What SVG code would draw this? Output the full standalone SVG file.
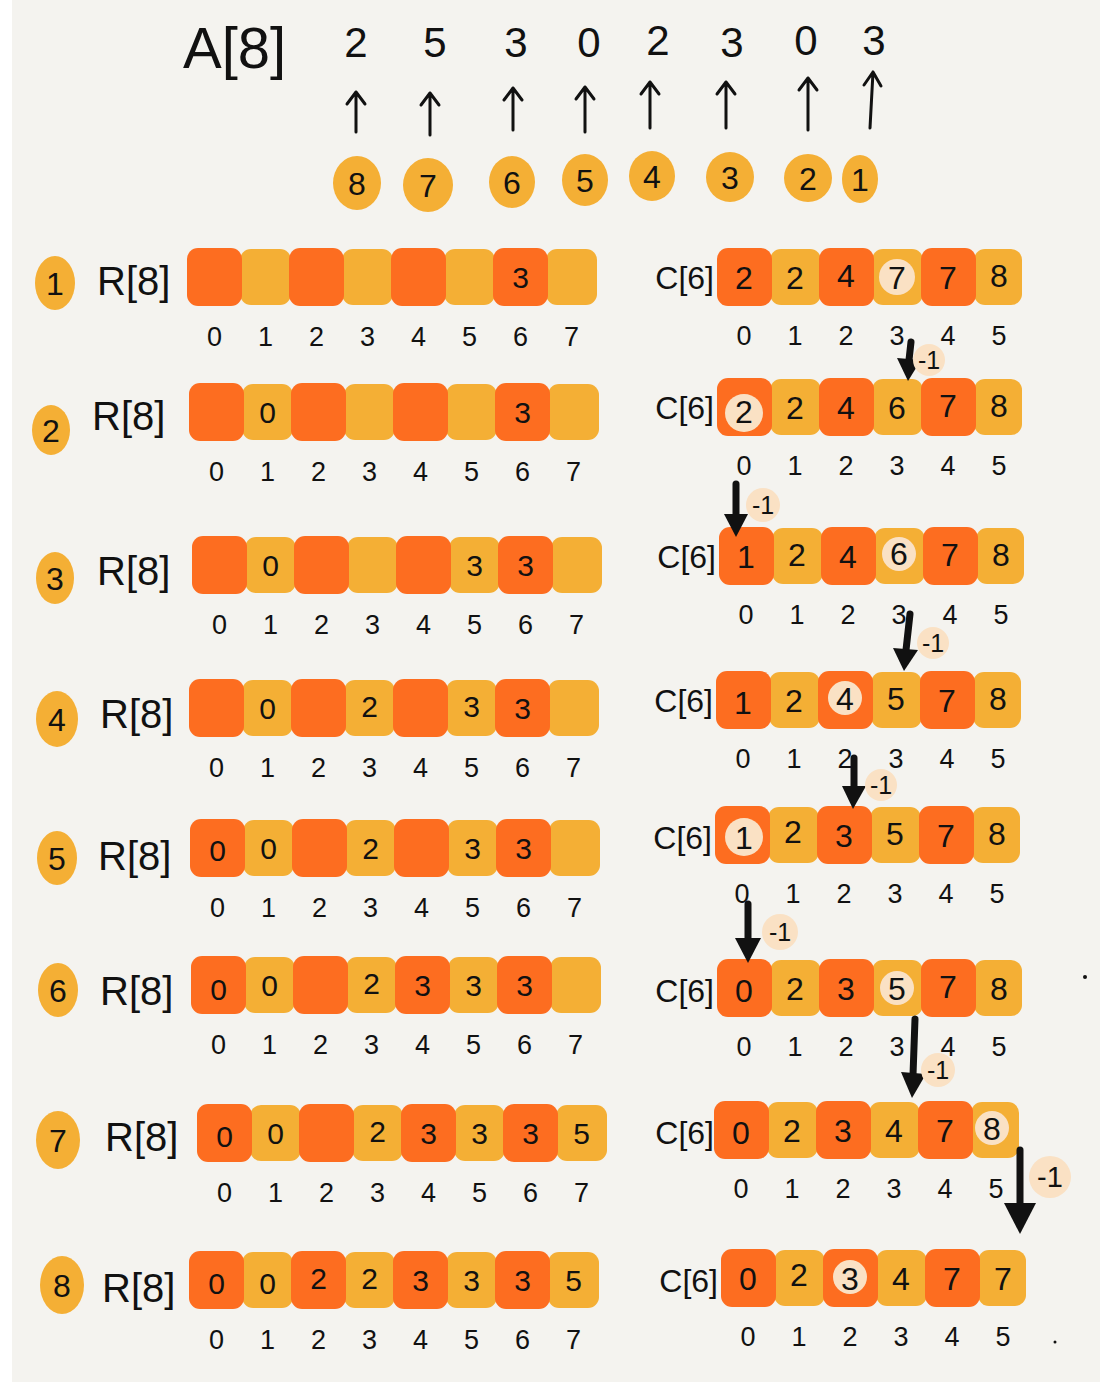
<svg xmlns="http://www.w3.org/2000/svg" xmlns:xlink="http://www.w3.org/1999/xlink" width="1108" height="1382" viewBox="0 0 1108 1382">
<style>
.d{fill:#FD6D20}
.l{fill:#F4AF35}
.hl{fill:#FAE1C4}
.step{fill:#F4AF35}
text{font-family:"Liberation Sans",Arial,sans-serif;fill:#111}
.v{font-size:30px;text-anchor:middle}
.cv{font-size:32px;text-anchor:middle}
.ix{font-size:27px;text-anchor:middle}
.lab{font-size:40px}
.clab{font-size:32px;text-anchor:end}
.sn{font-size:32px;text-anchor:middle}
.top{font-size:42px;text-anchor:middle}
.badge{font-size:25px;text-anchor:middle}
.ua{stroke:#111;stroke-width:3;fill:none;stroke-linecap:round;stroke-linejoin:round}
.da{stroke:#111;stroke-width:7;fill:none;stroke-linecap:round}
.dh{fill:#111}
</style>
<defs>
<g id="rcells">
<rect class="l" x="52" y="0" width="51" height="56" rx="11"/>
<rect class="l" x="154" y="0" width="51" height="56" rx="11"/>
<rect class="l" x="256" y="0" width="51" height="56" rx="11"/>
<rect class="l" x="358" y="0" width="51" height="56" rx="11"/>
<rect class="d" x="-1" y="-1" width="55" height="58" rx="11"/>
<rect class="d" x="101" y="-1" width="55" height="58" rx="11"/>
<rect class="d" x="203" y="-1" width="55" height="58" rx="11"/>
<rect class="d" x="305" y="-1" width="55" height="58" rx="11"/>
</g>
<g id="ccells">
<rect class="l" x="52" y="0" width="51" height="56" rx="11"/>
<rect class="l" x="154" y="0" width="51" height="56" rx="11"/>
<rect class="l" x="256" y="0" width="48" height="56" rx="11"/>
<rect class="d" x="-1" y="-1" width="55" height="58" rx="11"/>
<rect class="d" x="101" y="-1" width="55" height="58" rx="11"/>
<rect class="d" x="203" y="-1" width="55" height="58" rx="11"/>
</g>
<g id="rix">
<text class="ix" x="26.5" y="97">0</text><text class="ix" x="77.5" y="97">1</text><text class="ix" x="128.5" y="97">2</text><text class="ix" x="179.5" y="97">3</text><text class="ix" x="230.5" y="97">4</text><text class="ix" x="281.5" y="97">5</text><text class="ix" x="332.5" y="97">6</text><text class="ix" x="383.5" y="97">7</text>
</g>
<g id="cix">
<text class="ix" x="26" y="96">0</text><text class="ix" x="77" y="96">1</text><text class="ix" x="128" y="96">2</text><text class="ix" x="179" y="96">3</text><text class="ix" x="230" y="96">4</text><text class="ix" x="281" y="96">5</text>
</g>
</defs>

<rect x="0" y="0" width="1108" height="1382" fill="#ffffff"/>
<rect x="12" y="0" width="1088" height="1382" fill="#F4F3EF"/>

<g id="arrayA">
<text x="183" y="68" style="font-size:58px">A[8]</text>
<text class="top" x="356" y="57">2</text>
<text class="top" x="435" y="57">5</text>
<text class="top" x="516" y="57">3</text>
<text class="top" x="589" y="57">0</text>
<text class="top" x="658" y="55">2</text>
<text class="top" x="732" y="57">3</text>
<text class="top" x="806" y="55">0</text>
<text class="top" x="874" y="55">3</text>
</g>

<g id="order">
<g id="o8"><ellipse class="step" cx="357" cy="183" rx="24" ry="27"/><text class="sn" x="357" y="195">8</text></g>
<g id="o7"><ellipse class="step" cx="428" cy="185" rx="25" ry="27"/><text class="sn" x="428" y="197">7</text></g>
<g id="o6"><ellipse class="step" cx="512" cy="182" rx="23" ry="26"/><text class="sn" x="512" y="194">6</text></g>
<g id="o5"><ellipse class="step" cx="585" cy="180" rx="23" ry="26"/><text class="sn" x="585" y="192">5</text></g>
<g id="o4"><ellipse class="step" cx="652" cy="176" rx="23" ry="25"/><text class="sn" x="652" y="188">4</text></g>
<g id="o3"><ellipse class="step" cx="730" cy="177" rx="24" ry="25"/><text class="sn" x="730" y="189">3</text></g>
<g id="o2"><ellipse class="step" cx="808" cy="178" rx="24" ry="24"/><text class="sn" x="808" y="190">2</text></g>
<g id="o1"><ellipse class="step" cx="860" cy="179" rx="18" ry="24"/><text class="sn" x="860" y="191">1</text></g>
</g>

<g id="steps">
<g id="s1"><ellipse class="step" cx="55" cy="283" rx="20" ry="27"/><text class="sn" x="55" y="295">1</text></g>
<g id="s2"><ellipse class="step" cx="51" cy="430" rx="19" ry="25"/><text class="sn" x="51" y="442">2</text></g>
<g id="s3"><ellipse class="step" cx="55" cy="578" rx="19" ry="26"/><text class="sn" x="55" y="590">3</text></g>
<g id="s4"><ellipse class="step" cx="57" cy="719" rx="21" ry="28"/><text class="sn" x="57" y="731">4</text></g>
<g id="s5"><ellipse class="step" cx="57" cy="858" rx="20" ry="27"/><text class="sn" x="57" y="870">5</text></g>
<g id="s6"><ellipse class="step" cx="58" cy="990" rx="20" ry="27"/><text class="sn" x="58" y="1002">6</text></g>
<g id="s7"><ellipse class="step" cx="58" cy="1140" rx="22" ry="29"/><text class="sn" x="58" y="1152">7</text></g>
<g id="s8"><ellipse class="step" cx="62" cy="1285" rx="22" ry="29"/><text class="sn" x="62" y="1297">8</text></g>
</g>

<g id="R1" transform="translate(188,249)">
<text class="lab" x="-91" y="46">R[8]</text><use href="#rcells"/><use href="#rix"/>
<text class="v" x="332.5" y="39">3</text>
</g>
<g id="R2" transform="translate(190,384)">
<text class="lab" x="-98" y="46">R[8]</text><use href="#rcells"/><use href="#rix"/>
<text class="v" x="77.5" y="39">0</text><text class="v" x="332.5" y="39">3</text>
</g>
<g id="R3" transform="translate(193,537)">
<text class="lab" x="-96" y="48">R[8]</text><use href="#rcells"/><use href="#rix"/>
<text class="v" x="77.5" y="39">0</text><text class="v" x="281.5" y="39">3</text><text class="v" x="332.5" y="39">3</text>
</g>
<g id="R4" transform="translate(190,680)">
<text class="lab" x="-90" y="48">R[8]</text><use href="#rcells"/><use href="#rix"/>
<text class="v" x="77.5" y="39">0</text><text class="v" x="179.5" y="37">2</text><text class="v" x="281.5" y="37">3</text><text class="v" x="332.5" y="39">3</text>
</g>
<g id="R5" transform="translate(191,820)">
<text class="lab" x="-93" y="50">R[8]</text><use href="#rcells"/><use href="#rix"/>
<text class="v" x="26.5" y="41">0</text><text class="v" x="77.5" y="39">0</text><text class="v" x="179.5" y="39">2</text><text class="v" x="281.5" y="39">3</text><text class="v" x="332.5" y="39">3</text>
</g>
<g id="R6" transform="translate(192,957)">
<text class="lab" x="-92" y="48">R[8]</text><use href="#rcells"/><use href="#rix"/>
<text class="v" x="26.5" y="43">0</text><text class="v" x="77.5" y="39">0</text><text class="v" x="179.5" y="37">2</text><text class="v" x="230.5" y="39">3</text><text class="v" x="281.5" y="39">3</text><text class="v" x="332.5" y="39">3</text>
</g>
<g id="R7" transform="translate(198,1105)">
<text class="lab" x="-93" y="46">R[8]</text><use href="#rcells"/><use href="#rix"/>
<text class="v" x="26.5" y="42">0</text><text class="v" x="77.5" y="39">0</text><text class="v" x="179.5" y="37">2</text><text class="v" x="230.5" y="39">3</text><text class="v" x="281.5" y="39">3</text><text class="v" x="332.5" y="39">3</text><text class="v" x="383.5" y="39">5</text>
</g>
<g id="R8" transform="translate(190,1252)">
<text class="lab" x="-88" y="50">R[8]</text><use href="#rcells"/><use href="#rix"/>
<text class="v" x="26.5" y="42">0</text><text class="v" x="77.5" y="42">0</text><text class="v" x="128.5" y="37">2</text><text class="v" x="179.5" y="37">2</text><text class="v" x="230.5" y="39">3</text><text class="v" x="281.5" y="39">3</text><text class="v" x="332.5" y="39">3</text><text class="v" x="383.5" y="39">5</text>
</g>

<g id="C1" transform="translate(718,249)">
<text class="clab" x="-4" y="40">C[6]</text><use href="#ccells"/><use href="#cix"/>
<circle class="hl" cx="179" cy="28" r="18"/>
<text class="cv" x="26" y="40">2</text><text class="cv" x="77" y="40">2</text><text class="cv" x="128" y="38">4</text><text class="cv" x="179" y="40">7</text><text class="cv" x="230" y="40">7</text><text class="cv" x="281" y="38">8</text>
</g>
<g id="C2" transform="translate(718,379)">
<text class="clab" x="-4" y="40">C[6]</text><use href="#ccells"/><use href="#cix"/>
<circle class="hl" cx="26" cy="34" r="19"/>
<text class="cv" x="26" y="44">2</text><text class="cv" x="77" y="40">2</text><text class="cv" x="128" y="40">4</text><text class="cv" x="179" y="40">6</text><text class="cv" x="230" y="38">7</text><text class="cv" x="281" y="38">8</text>
</g>
<g id="C3" transform="translate(720,528)">
<text class="clab" x="-4" y="40">C[6]</text><use href="#ccells"/><use href="#cix"/>
<circle class="hl" cx="179" cy="26" r="17"/>
<text class="cv" x="26" y="40">1</text><text class="cv" x="77" y="38">2</text><text class="cv" x="128" y="40">4</text><text class="cv" x="179" y="37">6</text><text class="cv" x="230" y="38">7</text><text class="cv" x="281" y="38">8</text>
</g>
<g id="C4" transform="translate(717,672)">
<text class="clab" x="-4" y="40">C[6]</text><use href="#ccells"/><use href="#cix"/>
<circle class="hl" cx="128" cy="26" r="17"/>
<text class="cv" x="26" y="42">1</text><text class="cv" x="77" y="40">2</text><text class="cv" x="128" y="38">4</text><text class="cv" x="179" y="38">5</text><text class="cv" x="230" y="40">7</text><text class="cv" x="281" y="38">8</text>
</g>
<g id="C5" transform="translate(716,807)">
<text class="clab" x="-4" y="42">C[6]</text><use href="#ccells"/><use href="#cix"/>
<circle class="hl" cx="28" cy="30" r="19"/>
<text class="cv" x="28" y="42">1</text><text class="cv" x="77" y="36">2</text><text class="cv" x="128" y="40">3</text><text class="cv" x="179" y="38">5</text><text class="cv" x="230" y="40">7</text><text class="cv" x="281" y="38">8</text>
</g>
<g id="C6" transform="translate(718,960)">
<text class="clab" x="-4" y="42">C[6]</text><use href="#ccells"/><use href="#cix"/>
<circle class="hl" cx="179" cy="28" r="17"/>
<text class="cv" x="26" y="42">0</text><text class="cv" x="77" y="40">2</text><text class="cv" x="128" y="40">3</text><text class="cv" x="179" y="40">5</text><text class="cv" x="230" y="38">7</text><text class="cv" x="281" y="40">8</text>
</g>
<g id="C7" transform="translate(715,1102)">
<text class="clab" x="-1" y="42">C[6]</text><use href="#ccells"/><use href="#cix"/>
<circle class="hl" cx="277" cy="26" r="17"/>
<text class="cv" x="26" y="42">0</text><text class="cv" x="77" y="40">2</text><text class="cv" x="128" y="40">3</text><text class="cv" x="179" y="40">4</text><text class="cv" x="230" y="40">7</text><text class="cv" x="277" y="38">8</text>
</g>
<g id="C8" transform="translate(722,1250)">
<text class="clab" x="-4" y="42">C[6]</text><use href="#ccells"/><use href="#cix"/>
<circle class="hl" cx="128" cy="27" r="17"/>
<text class="cv" x="26" y="40">0</text><text class="cv" x="77" y="36">2</text><text class="cv" x="128" y="40">3</text><text class="cv" x="179" y="40">4</text><text class="cv" x="230" y="40">7</text><text class="cv" x="281" y="40">7</text>
</g>

<g id="connectors">
<path class="ua" d="M356 132 V92 M347 104 L356 92 L365 104"/>
<path class="ua" d="M430 135 V93 M421 105 L430 93 L439 105"/>
<path class="ua" d="M513 130 V88 M504 100 L513 88 L522 100"/>
<path class="ua" d="M585 132 V87 M576 99 L585 87 L594 99"/>
<path class="ua" d="M650 128 V82 M641 94 L650 82 L659 94"/>
<path class="ua" d="M726 128 V82 M717 94 L726 82 L735 94"/>
<path class="ua" d="M808 130 V78 M799 90 L808 78 L817 90"/>
<path class="ua" d="M870 128 L873 72 M864 85 L873 72 L881 86"/>

<path class="da" d="M911 342 L909 360"/><polygon class="dh" points="897,358 921,360 908,381"/>
<path class="da" d="M736 484 V516"/><polygon class="dh" points="724,514 748,514 736,537"/>
<path class="da" d="M910 614 L906 650"/><polygon class="dh" points="893,648 918,650 904,671"/>
<path class="da" d="M854 758 V788"/><polygon class="dh" points="842,786 866,786 853,809"/>
<path class="da" d="M748 904 V940"/><polygon class="dh" points="735,938 761,938 748,963"/>
<path class="da" d="M915 1019 L913 1075"/><polygon class="dh" points="901,1072 926,1074 912,1098"/>
<path class="da" d="M1020 1150 V1205"/><polygon class="dh" points="1004,1203 1036,1203 1020,1234"/>

<circle class="hl" cx="929" cy="360" r="16"/><text class="badge" x="929" y="369">-1</text>
<circle class="hl" cx="763" cy="505" r="17"/><text class="badge" x="763" y="514">-1</text>
<circle class="hl" cx="933" cy="643" r="16"/><text class="badge" x="933" y="652">-1</text>
<circle class="hl" cx="881" cy="785" r="16"/><text class="badge" x="881" y="794">-1</text>
<circle class="hl" cx="780" cy="932" r="18"/><text class="badge" x="780" y="941">-1</text>
<circle class="hl" cx="938" cy="1070" r="17"/><text class="badge" x="938" y="1079">-1</text>
<circle class="hl" cx="1050" cy="1177" r="21"/><text class="badge" x="1050" y="1187" style="font-size:29px">-1</text>
</g>

<circle cx="1085" cy="977" r="2" fill="#111"/>
<circle cx="1055" cy="1342" r="1.5" fill="#111"/>
</svg>
